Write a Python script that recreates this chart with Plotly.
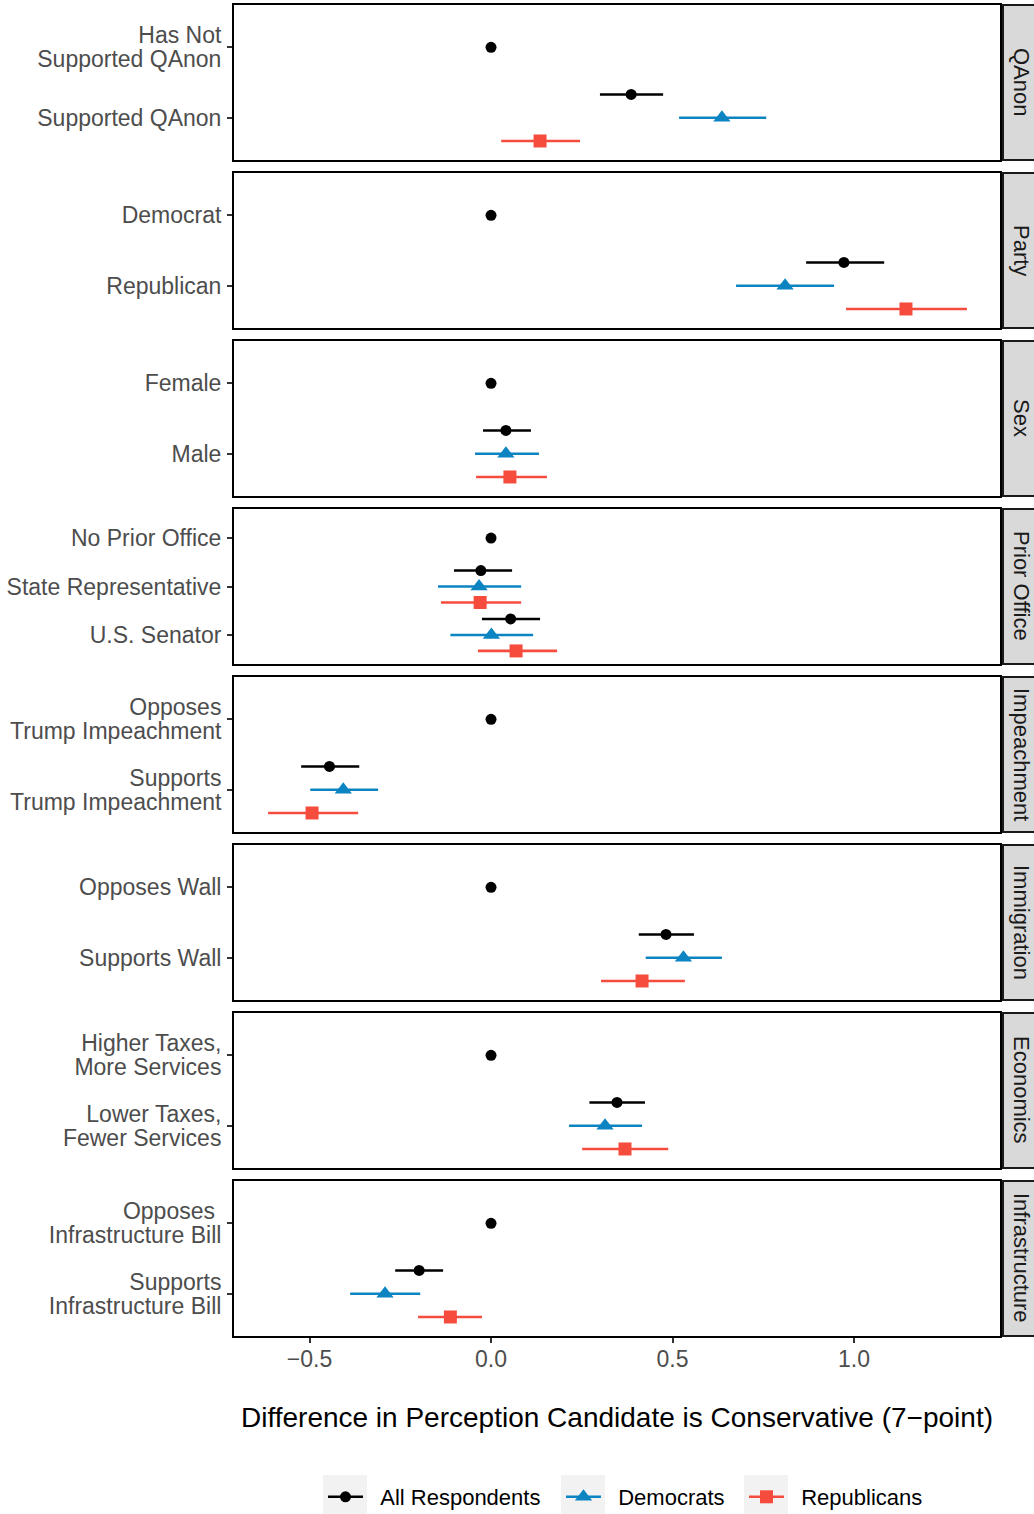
import plotly.graph_objects as go
from plotly.subplots import make_subplots

# ---------------- data ----------------
facet_names = ["QAnon", "Party", "Sex", "Prior Office", "Impeachment",
               "Immigration", "Economics", "Infrastructure"]
facet_levels = [
    ["Has Not\nSupported QAnon", "Supported QAnon"],
    ["Democrat", "Republican"],
    ["Female", "Male"],
    ["No Prior Office", "State Representative", "U.S. Senator"],
    ["Opposes\nTrump Impeachment", "Supports\nTrump Impeachment"],
    ["Opposes Wall", "Supports Wall"],
    ["Higher Taxes,\nMore Services", "Lower Taxes,\nFewer Services"],
    ["Opposes\u00a0\nInfrastructure Bill", "Supports\nInfrastructure Bill"],
]
# reference-level estimate (first level of every facet)
ref_est = [0.0, 0.0, 0.0, 0.0, 0.0, 0.0, 0.0, 0.0]

# non-reference rows: which facet / level
row_facet = [0, 1, 2, 3, 3, 4, 5, 6, 7]
row_level = [1, 1, 1, 1, 2, 1, 1, 1, 1]

all_est = [0.386, 0.972, 0.041, -0.028, 0.054, -0.445, 0.482, 0.347, -0.198]
all_lo  = [0.300, 0.868, -0.022, -0.102, -0.025, -0.523, 0.407, 0.271, -0.264]
all_hi  = [0.474, 1.083, 0.110, 0.058, 0.135, -0.363, 0.559, 0.424, -0.132]

dem_est = [0.636, 0.810, 0.041, -0.033, 0.001, -0.407, 0.530, 0.314, -0.292]
dem_lo  = [0.518, 0.675, -0.044, -0.146, -0.112, -0.498, 0.426, 0.215, -0.388]
dem_hi  = [0.758, 0.945, 0.132, 0.083, 0.116, -0.311, 0.636, 0.416, -0.195]

rep_est = [0.135, 1.143, 0.052, -0.030, 0.069, -0.493, 0.416, 0.369, -0.112]
rep_lo  = [0.028, 0.978, -0.041, -0.138, -0.036, -0.614, 0.303, 0.251, -0.201]
rep_hi  = [0.245, 1.311, 0.154, 0.083, 0.182, -0.366, 0.534, 0.488, -0.025]

groups = ["All Respondents", "Democrats", "Republicans"]
x_tickvals = [-0.5, 0.0, 0.5, 1.0]
x_ticktext = ["\u22120.5", "0.0", "0.5", "1.0"]
x_title = "Difference in Perception Candidate is Conservative (7\u2212point)"

# ---------------- style ----------------
colors = ["#000000", "#0C84C2", "#F64C3D"]
symbols = ["circle", "triangle-up", "square"]
msizes = [11, 15, 13]
dodge = [-0.33, 0.0, 0.33]
FONT = "Liberation Sans, Arial, Helvetica, sans-serif"
LINE_PX = 24          # line spacing of multi-line axis labels

est = [all_est, dem_est, rep_est]
lo = [all_lo, dem_lo, rep_lo]
hi = [all_hi, dem_hi, rep_hi]

W, H = 1034, 1514
ML, MR, MT, MB = 234, 34, 5, 178
GAP = 13
plot_w = W - ML - MR
plot_h = H - MT - MB
nF = len(facet_names)
panel_px = (plot_h - (nF - 1) * GAP) / nF


def px_x(p):
    return (p - ML) / plot_w


def px_y(p):
    return (H - MB - p) / plot_h


fig = make_subplots(rows=nF, cols=1, shared_xaxes=True,
                    vertical_spacing=GAP / plot_h)

for f in range(nF):
    r = f + 1
    n = len(facet_levels[f])
    unit = panel_px / (n - 1 + 1.2)
    fig.add_vline(x=0, line=dict(color="black", width=2, dash="10px,9px"),
                  row=r, col=1, layer="below")
    idx = [i for i in range(len(row_facet)) if row_facet[i] == f]
    for g in range(3):
        xs = [est[g][i] for i in idx]
        ys = [row_level[i] + dodge[g] for i in idx]
        ep = [hi[g][i] - est[g][i] for i in idx]
        em = [est[g][i] - lo[g][i] for i in idx]
        if g == 0:
            xs = [ref_est[f]] + xs
            ys = [0] + ys
            ep = [0] + ep
            em = [0] + em
        fig.add_trace(go.Scatter(
            x=xs, y=ys, mode="markers", showlegend=False,
            marker=dict(symbol=symbols[g], size=msizes[g], color=colors[g],
                        line=dict(width=0)),
            error_x=dict(type="data", array=ep, arrayminus=em, symmetric=False,
                         color=colors[g], thickness=2.6, width=0),
            name=groups[g]), row=r, col=1)
    # label lines placed individually (tight line spacing), tick marks as minor ticks
    lab_vals, lab_text = [], []
    for li, lab in enumerate(facet_levels[f]):
        lines = lab.split("\n")
        k = len(lines)
        for j, t in enumerate(lines):
            lab_vals.append(li + (j - (k - 1) / 2) * LINE_PX / unit)
            lab_text.append(t)
    fig.update_yaxes(row=r, col=1, range=[n - 1 + 0.6, -0.6],
                     tickmode="array", tickvals=lab_vals, ticktext=lab_text,
                     ticks="",
                     minor=dict(tickmode="array", tickvals=list(range(n)),
                                ticks="outside", ticklen=5, tickwidth=1.5,
                                tickcolor="#333333", showgrid=False),
                     showgrid=False, zeroline=False, showline=True, mirror=True,
                     linecolor="black", linewidth=2,
                     tickfont=dict(family=FONT, size=23, color="#4d4d4d"),
                     ticklabelstandoff=6)
    last = (r == nF)
    fig.update_xaxes(row=r, col=1, range=[-0.708, 1.402],
                     tickvals=x_tickvals, ticktext=x_ticktext,
                     ticks="outside" if last else "", ticklen=5, tickwidth=1.5,
                     tickcolor="#333333", showticklabels=last,
                     showgrid=False, zeroline=False, showline=True, mirror=True,
                     linecolor="black", linewidth=2,
                     tickfont=dict(family=FONT, size=23, color="#4d4d4d"),
                     ticklabelstandoff=-4 if last else 0)
    yref = "y domain" if r == 1 else f"y{r} domain"
    fig.add_shape(type="rect", xref="paper", yref=yref,
                  x0=px_x(1003), x1=1.12, y0=0, y1=1,
                  fillcolor="#d9d9d9", line=dict(color="#1a1a1a", width=2),
                  layer="above")
    fig.add_annotation(xref="paper", yref=yref,
                       x=px_x(1021.5), y=0.5, text=facet_names[f],
                       xanchor="center", yanchor="middle",
                       textangle=90, showarrow=False,
                       font=dict(family=FONT, size=22, color="#1a1a1a"))

fig.update_xaxes(row=nF, col=1,
                 title=dict(text=x_title, standoff=37,
                            font=dict(family=FONT, size=28, color="black")))

# ---------------- legend (one legend per key, ggplot-like keys) ----------------
key_left = [323, 561, 744]
legend_ids = ["legend", "legend2", "legend3"]
for g in range(3):
    fig.add_trace(go.Scatter(
        x=[None], y=[None], mode="lines+markers",
        name="\u00a0\u00a0" + groups[g], legend=legend_ids[g],
        line=dict(color=colors[g], width=2.6),
        marker=dict(symbol=symbols[g], size=msizes[g], color=colors[g])),
        row=1, col=1)
    fig.add_shape(type="rect", xref="paper", yref="paper",
                  x0=px_x(key_left[g]), x1=px_x(key_left[g] + 44),
                  y0=px_y(1519), y1=px_y(1475),
                  fillcolor="#f2f2f2", line=dict(width=0), layer="below")

leg_common = dict(orientation="h", xanchor="left", yanchor="middle",
                  y=px_y(1497), itemwidth=35, bgcolor="rgba(0,0,0,0)",
                  borderwidth=0, font=dict(family=FONT, size=22, color="black"))

fig.update_layout(
    width=W, height=H,
    margin=dict(l=ML, r=MR, t=MT, b=MB, autoexpand=False),
    paper_bgcolor="white", plot_bgcolor="white",
    font=dict(family=FONT, size=22, color="black"),
    showlegend=True,
    legend=dict(x=px_x(key_left[0]), **leg_common),
    legend2=dict(x=px_x(key_left[1]), **leg_common),
    legend3=dict(x=px_x(key_left[2]), **leg_common),
)

fig.write_html("out.html", config={"displayModeBar": False},
               post_script="document.body.style.margin='0';")
